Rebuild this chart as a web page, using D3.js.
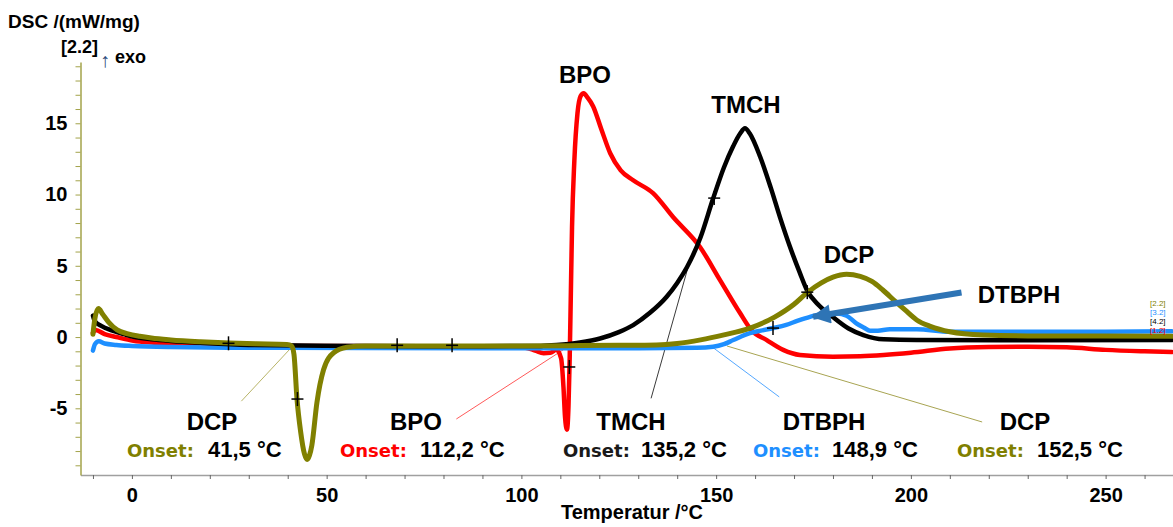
<!DOCTYPE html>
<html>
<head>
<meta charset="utf-8">
<script src="https://cdn.jsdelivr.net/npm/d3@7"></script>
<style>
  body { margin: 0; background: #fff; }
  svg { display: block; font-family: Arial, "Liberation Sans", sans-serif; }
</style>
</head>
<body>
<svg id="chart" width="1173" height="527"></svg>
<script>
// DSC curves, temperature in °C and signal in mW/mg
const bpoT = [-10, -9.3, -7, -4, 0.4, 5, 10, 20, 40, 70, 95, 101, 103.5, 105.7, 107.4, 109, 110.2, 110.8, 111.2, 111.7,
    112.1, 112.4, 112.7, 113.0, 113.6, 114.4, 115.2, 116.0, 117.0, 118.4, 120.5, 122.8, 125.5, 128.7, 133.8, 139, 145.9,
    151, 156.1, 159, 163, 167.2, 171.5, 180, 187, 193, 200, 210, 220, 230, 240, 250, 260, 267];
const bpoV = [0.3, 0.5, 0.2, 0.0, -0.26, -0.38, -0.45, -0.55, -0.62, -0.65, -0.68, -0.75, -0.95, -1.13, -1.1, -0.9, -1.5,
    -3.5, -5.6, -6.5, -4.8, -1.5, 3.1, 7.7, 12.4, 15.7, 16.9, 17.1, 16.8, 16.2, 14.6, 12.9, 11.7, 11.0, 10.1, 8.4, 6.3,
    4.0, 1.7, 0.5, -0.21, -0.9, -1.26, -1.38, -1.35, -1.26, -1.1, -0.8, -0.7, -0.68, -0.72, -0.9, -1.0, -1.05];

const tmchT = [-10, -9.5, -8, -5, -2, 0.4, 5, 10, 17.6, 30, 60, 90, 105, 109, 115, 120.2, 125, 128.7, 133, 137.3, 140,
    142.5, 146, 149.2, 152, 154.4, 156.2, 157.4, 158.6, 161.3, 164, 166.4, 169, 171.5, 173.3, 176.5, 180, 184, 187.8,
    193, 201.5, 230, 267];
const tmchV = [1.5, 1.1, 0.8, 0.45, 0.2, 0.02, -0.15, -0.27, -0.4, -0.55, -0.62, -0.65, -0.62, -0.56, -0.38, -0.1, 0.35,
    0.84, 1.7, 2.83, 3.8, 4.9, 7.0, 9.7, 11.9, 13.4, 14.3, 14.65, 14.3, 12.65, 10.5, 8.4, 6.3, 4.5, 3.3, 2.2, 1.4, 0.6,
    0.14, -0.16, -0.21, -0.22, -0.2];

const dtbphT = [-10, -9.5, -8.5, -7, -4, 0, 10, 30, 60, 100, 130, 145, 149.2, 152, 154.4, 158.7, 161.5, 164.7, 168, 171,
    174.1, 177, 181, 183.5, 186, 188, 189.5, 191.5, 194.6, 201.5, 210, 230, 250, 267];
const dtbphV = [-0.95, -0.5, -0.3, -0.45, -0.55, -0.62, -0.7, -0.75, -0.77, -0.78, -0.78, -0.75, -0.68, -0.5, -0.21,
    0.28, 0.45, 0.63, 0.85, 1.15, 1.42, 1.6, 1.66, 1.5, 0.96, 0.65, 0.44, 0.45, 0.54, 0.54, 0.37, 0.37, 0.38, 0.4];

const dcpT = [-10, -9.5, -8.6, -7.5, -6, -3.8, -1, 2, 5, 10, 17.6, 25, 32, 39.8, 41.0, 41.6, 42.4, 43.3, 44.3, 45.0,
    45.6, 46.2, 47.5, 49.2, 51.8, 55.2, 60, 80, 100, 115, 125, 134.7, 140, 146, 152, 158.7, 165, 170, 173.3, 177, 180,
    183.5, 187, 190, 192.8, 196, 198.5, 201.5, 205, 210, 218.5, 230, 248.5, 267];
const dcpV = [0.2, 1.3, 2.0, 1.6, 1.05, 0.5, 0.22, 0.05, -0.07, -0.2, -0.33, -0.42, -0.47, -0.52, -0.62, -1.2, -4.4,
    -6.6, -8.2, -8.6, -8.3, -7.6, -4.6, -2.3, -1.1, -0.72, -0.62, -0.62, -0.62, -0.6, -0.58, -0.55, -0.45, -0.2, 0.15,
    0.63, 1.4, 2.3, 3.1, 3.8, 4.2, 4.4, 4.25, 3.9, 3.3, 2.5, 1.9, 1.2, 0.75, 0.37, 0.14, 0.08, 0.07, 0.05];

// evaluation markers (+)
const markT = [24.8, 42.5, 68.1, 82.2, 112.3, 149.5, 164.6, 173.4];
const markV = [-0.44, -4.35, -0.58, -0.58, -2.1, 9.75, 0.63, 3.15];

// annotations
const peakNames = ['BPO', 'TMCH', 'DCP', 'DTBPH'];
const onsetNames = ['DCP', 'BPO', 'TMCH', 'DTBPH', 'DCP'];
const onsetValues = ['41,5', '112,2', '135,2', '148,9', '152,5'];
const xTickLabels = [0, 50, 100, 150, 200, 250];
const yTickLabels = [-5, 0, 5, 10, 15];

function translate(x, y) {
    return `translate(${x}, ${y})`;
}

const svg = d3.select('#chart');
const x = d3.scaleLinear().domain([-13.2, 267.3]).range([80.5, 1173]);
const y = d3.scaleLinear().domain([-9.68, 19.3]).range([475, 62]);

// x axis
const gx = svg.append('g')
    .attr('transform', translate(0, 475))
    .call(d3.axisBottom(x)
        .tickValues(d3.range(-10, 261, 10))
        .tickSize(4)
        .tickSizeOuter(0)
        .tickPadding(9)
        .tickFormat(d => xTickLabels.includes(d) ? d : ''));
gx.select('.domain').attr('stroke', '#a0a0a0').attr('stroke-width', 1.5);
gx.selectAll('.tick line').attr('stroke', '#666');
gx.selectAll('.tick text')
    .attr('font-family', 'Arial, "Liberation Sans", sans-serif')
    .attr('font-size', 20).attr('font-weight', 'bold').attr('fill', '#000');

// y axis
const gy = svg.append('g')
    .attr('transform', translate(80.5, 0))
    .call(d3.axisLeft(y)
        .tickValues(d3.range(-9, 20, 1))
        .tickSize(5)
        .tickSizeOuter(0)
        .tickPadding(8)
        .tickFormat(d => yTickLabels.includes(d) ? d : ''));
gy.select('.domain').attr('stroke', '#a3a34a').attr('stroke-width', 1.5);
gy.selectAll('.tick line').attr('stroke', '#a3a34a');
gy.selectAll('.tick text')
    .attr('font-family', 'Arial, "Liberation Sans", sans-serif')
    .attr('font-size', 20).attr('font-weight', 'bold').attr('fill', '#000');

// axis titles
svg.append('text').attr('x', 8).attr('y', 28)
    .attr('font-size', 19).attr('font-weight', 'bold').text('DSC /(mW/mg)');
svg.append('text').attr('x', 61).attr('y', 53)
    .attr('font-size', 18).attr('font-weight', 'bold').text('[2.2]');
svg.append('text').attr('x', 100).attr('y', 67)
    .attr('font-size', 20).attr('fill', '#2a4a7a').text('↑');
svg.append('text').attr('x', 115).attr('y', 63)
    .attr('font-size', 18).attr('font-weight', 'bold').text('exo');
svg.append('text').attr('x', 632).attr('y', 519).attr('text-anchor', 'middle')
    .attr('font-size', 20).attr('font-weight', 'bold').text('Temperatur /°C');

// leader lines from onset constructions to the labels
const leaders = [
    { from: [41.4, -0.6], to: [28.1, -4.5], color: '#b8b468' },
    { from: [110.7, -0.9], to: [83.3, -5.75], color: '#ff5a5a' },
    { from: [143.2, 5.3], to: [133.3, -4.3], color: '#3a3a3a' },
    { from: [149.2, -0.74], to: [166.2, -4.2], color: '#55a8ff' },
    { from: [152.8, -0.63], to: [218.3, -5.96], color: '#a8a452' }
];
svg.append('g').selectAll('line')
    .data(leaders)
    .enter().append('line')
    .attr('x1', d => x(d.from[0])).attr('y1', d => y(d.from[1]))
    .attr('x2', d => x(d.to[0])).attr('y2', d => y(d.to[1]))
    .attr('stroke', d => d.color).attr('stroke-width', 1);

// curves
const series = [
    { T: bpoT, V: bpoV, color: '#ff0000', width: 4.5 },
    { T: dtbphT, V: dtbphV, color: '#1e8fff', width: 4.5 },
    { T: tmchT, V: tmchV, color: '#000000', width: 4.5 },
    { T: dcpT, V: dcpV, color: '#808000', width: 5 }
];
const line = d3.line()
    .x(d => x(d[0]))
    .y(d => y(d[1]))
    .curve(d3.curveMonotoneX);
svg.append('g').selectAll('path')
    .data(series)
    .enter().append('path')
    .attr('d', s => line(s.T.map((t, i) => [t, s.V[i]])))
    .attr('fill', 'none')
    .attr('stroke', s => s.color)
    .attr('stroke-width', s => s.width)
    .attr('stroke-linejoin', 'round')
    .attr('stroke-linecap', 'round');

// + markers
const marks = svg.append('g').selectAll('g')
    .data(markT.map((t, i) => [t, markV[i]]))
    .enter().append('g')
    .attr('transform', d => translate(x(d[0]), y(d[1])));
marks.append('line').attr('x1', -6).attr('x2', 6).attr('stroke', '#000').attr('stroke-width', 1.5);
marks.append('line').attr('y1', -7).attr('y2', 7).attr('stroke', '#000').attr('stroke-width', 1.5);

// blue arrow pointing at DTBPH curve
const defs = svg.append('defs');
defs.append('marker')
    .attr('id', 'arrow')
    .attr('viewBox', '0 0 10 10')
    .attr('refX', 9).attr('refY', 5)
    .attr('markerWidth', 4).attr('markerHeight', 3.2)
    .attr('orient', 'auto')
    .append('path').attr('d', 'M0,0 L10,5 L0,10 Z').attr('fill', '#2e74b5');
svg.append('line')
    .attr('x1', x(213.0)).attr('y1', y(3.12))
    .attr('x2', x(174.9)).attr('y2', y(1.43))
    .attr('stroke', '#2e74b5').attr('stroke-width', 6)
    .attr('marker-end', 'url(#arrow)');

// peak labels
const peakPos = [[585, 83], [746, 113], [849, 263], [1019, 303]];
svg.append('g').selectAll('text')
    .data(peakNames)
    .enter().append('text')
    .attr('x', (d, i) => peakPos[i][0]).attr('y', (d, i) => peakPos[i][1])
    .attr('text-anchor', 'middle')
    .attr('font-size', 24).attr('font-weight', 'bold')
    .text(d => d);

// onset labels
const onsetColors = ['#808000', '#ff0000', '#1a1a1a', '#1e8fff', '#808000'];
const nameX = [212, 416, 631, 824, 1025];
const onsetX = [127, 340, 563, 753, 957];
const valueX = [208, 420, 641, 832, 1037];
const og = svg.append('g');
onsetNames.forEach((n, i) => {
    og.append('text').attr('x', nameX[i]).attr('y', 430)
        .attr('text-anchor', 'middle')
        .attr('font-size', 24).attr('font-weight', 'bold').text(n);
    og.append('text').attr('x', onsetX[i]).attr('y', 457)
        .attr('font-family', '"DejaVu Sans", Verdana, sans-serif')
        .attr('font-size', 18).attr('font-weight', 'bold')
        .attr('fill', onsetColors[i]).text('Onset:');
    og.append('text').attr('x', valueX[i]).attr('y', 457)
        .attr('font-size', 22).attr('font-weight', 'bold')
        .text(onsetValues[i] + ' °C');
});

// curve ids at the right edge
const ids = [['[2.2]', '#808000', 306], ['[3.2]', '#1e8fff', 315], ['[4.2]', '#000', 324], ['[1.2]', '#ff0000', 333]];
svg.append('g').selectAll('text')
    .data(ids)
    .enter().append('text')
    .attr('x', 1150).attr('y', d => d[2])
    .attr('font-size', 8).attr('fill', d => d[1])
    .text(d => d[0]);
</script>
</body>
</html>
